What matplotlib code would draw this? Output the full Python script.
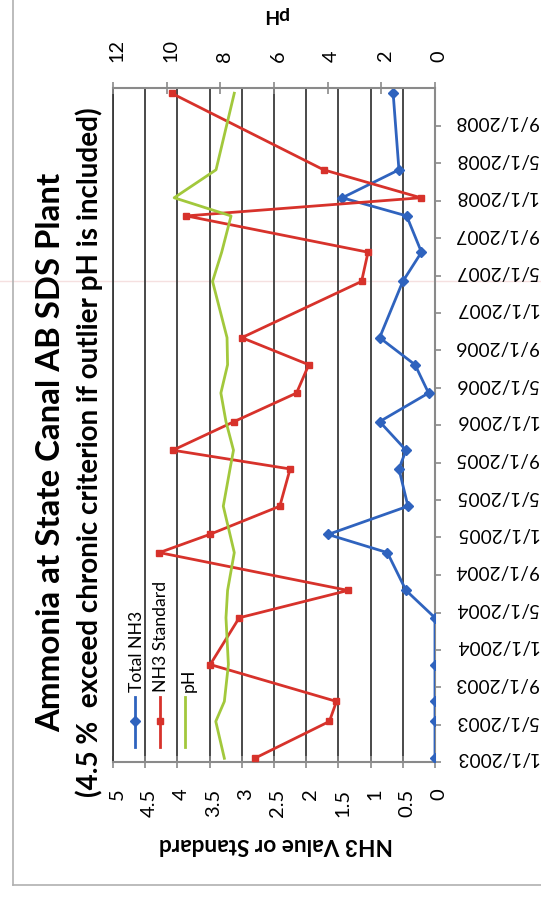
import datetime as dt
import matplotlib
matplotlib.use('Agg')
import matplotlib.pyplot as plt
from matplotlib.lines import Line2D
from matplotlib.transforms import ScaledTranslation

# ---------------- data ----------------
sample_dates = ['2003-01-13', '2003-05-13', '2003-07-17', '2003-11-14', '2004-04-14',
                '2004-07-12', '2004-11-12', '2005-01-10', '2005-04-12', '2005-08-11',
                '2005-10-11', '2006-01-12', '2006-04-15', '2006-07-16', '2006-10-12',
                '2007-04-13', '2007-07-17', '2007-11-12', '2008-01-10', '2008-04-10',
                '2008-12-15']
total_nh3 = [0.0, 0.0, 0.0, 0.0, 0.0, 0.45, 0.74, 1.66, 0.42, 0.56, 0.45,
             0.86, 0.10, 0.31, 0.86, 0.50, 0.21, 0.44, 1.44, 0.56, 0.65]
nh3_standard = [2.80, 1.64, 1.53, 3.49, 3.04, 1.35, 4.28, 3.50, 2.41, 2.25, 4.07,
                3.12, 2.15, 1.96, 3.00, 1.14, 1.04, 3.86, 0.22, 1.73, 4.09]
ph = [7.85, 8.17, 7.85, 7.70, 7.79, 7.73, 7.48, 7.64, 7.89, 7.64, 7.51,
      7.79, 7.98, 7.73, 7.75, 8.29, 7.95, 7.60, 9.72, 8.16, 7.48]

date_tick_labels = ['1/1/2003', '5/1/2003', '9/1/2003', '1/1/2004', '5/1/2004',
                    '9/1/2004', '1/1/2005', '5/1/2005', '9/1/2005', '1/1/2006',
                    '5/1/2006', '9/1/2006', '1/1/2007', '5/1/2007', '9/1/2007',
                    '1/1/2008', '5/1/2008', '9/1/2008']
nh3_ticks = [0, 0.5, 1, 1.5, 2, 2.5, 3, 3.5, 4, 4.5, 5]
nh3_tick_labels = ['0', '0.5', '1', '1.5', '2', '2.5', '3', '3.5', '4', '4.5', '5']
ph_ticks = [0, 2, 4, 6, 8, 10, 12]
ph_tick_labels = ['0', '2', '4', '6', '8', '10', '12']
series_names = ['Total NH3', 'NH3 Standard', 'pH']
title = 'Ammonia at State Canal AB SDS Plant'
subtitle = '(4.5 %  exceed chronic criterion if outlier pH is included)'
nh3_axis_title = 'NH3 Value or Standard'
ph_axis_title = 'pH'

BLUE = '#2F63BE'
RED = '#D7322B'
GREEN = '#A2C83C'
GRID = '#3a3a3a'
AXIS = '#8a8a8a'

# ---------------- figure ----------------
W, H = 541, 897
plt.rcParams['font.family'] = ['Lato', 'DejaVu Sans']
fig = plt.figure(figsize=(W / 100, H / 100), dpi=100)
fig.patch.set_facecolor('white')
renderer = fig.canvas.get_renderer()


def fx(px):
    return px / W


def fy(py):
    return 1 - py / H


def size_for(text, target, weight='normal', base=12.0):
    t = fig.text(0, 0, text, fontsize=base, fontweight=weight)
    w = t.get_window_extent(renderer).width
    t.remove()
    return base * target / w


L, R, T, B = 113, 435, 88, 762
ax = fig.add_axes([fx(L), fy(B), fx(R) - fx(L), fy(T) - fy(B)])
ax.set_facecolor('none')

d = [dt.datetime.strptime(s, '%Y-%m-%d') for s in sample_dates]
tick_dates = [dt.datetime.strptime(s, '%m/%d/%Y') for s in date_tick_labels]

ax.plot(total_nh3, d, color=BLUE, lw=2.0, marker='D', ms=5.5, zorder=3)
ax.plot(nh3_standard, d, color=RED, lw=2.0, marker='s', ms=5, zorder=4)

ax.set_xlim(5, 0)
ax.set_ylim(dt.datetime(2003, 1, 1), dt.datetime(2009, 1, 1))

ax2 = ax.twiny()
ax2.plot(ph, d, color=GREEN, lw=2.0, zorder=3)
ax2.set_xlim(12, 0)

# grid / spines
ax.set_axisbelow(True)
ax.set_xticks(nh3_ticks)
ax.set_xticklabels(nh3_tick_labels)
ax.grid(axis='x', color=GRID, lw=1.3)
ax.grid(axis='y', visible=False)
for s in ['top']:
    ax.spines[s].set_visible(False)
ax.spines['left'].set_color(GRID)
ax.spines['left'].set_linewidth(1.3)
for s in ['bottom', 'right']:
    ax.spines[s].set_color(AXIS)
    ax.spines[s].set_linewidth(1.5)
for s in ['bottom', 'left', 'right']:
    ax2.spines[s].set_visible(False)
ax2.spines['top'].set_color(AXIS)
ax2.spines['top'].set_linewidth(1.5)

tick_fs_date = size_for('9/1/2008', 83)
tick_fs_nh3 = size_for('4.5', 28)
tick_fs_ph = size_for('10', 23)

ax.tick_params(axis='x', bottom=True, top=False, direction='inout', length=8,
               width=1.2, color=AXIS, pad=15, labelsize=tick_fs_nh3, labelrotation=90)
ax.yaxis.tick_right()
ax.set_yticks(tick_dates)
ax.set_yticklabels(date_tick_labels)
ax.tick_params(axis='y', left=False, right=True, labelleft=False, labelright=True,
               direction='out', length=4, width=1.2, color=AXIS, pad=10,
               labelsize=tick_fs_date, labelrotation=180)
for lab in ax.get_yticklabels():
    lab.set_va('center')
    lab.set_ha('left')
    lab.set_transform(lab.get_transform() + ScaledTranslation(0, 4 / 100, fig.dpi_scale_trans))
for lab in ax.get_xticklabels():
    lab.set_transform(lab.get_transform() + ScaledTranslation(4 / 100, 0, fig.dpi_scale_trans))

ax2.set_xticks(ph_ticks)
ax2.set_xticklabels(ph_tick_labels)
ax2.tick_params(axis='x', top=True, direction='inout', length=8, width=1.2,
                color=AXIS, pad=15, labelsize=tick_fs_ph, labelrotation=90)
for lab in ax2.get_xticklabels():
    lab.set_transform(lab.get_transform() + ScaledTranslation(4 / 100, 0, fig.dpi_scale_trans))

# axis titles
fig.text(fx(276), fy(844), nh3_axis_title, rotation=180, ha='center', va='center',
         fontweight='bold', fontsize=size_for(nh3_axis_title, 234, 'bold'))
fig.text(fx(275), fy(14), ph_axis_title, rotation=180, ha='center', va='center',
         fontweight='bold', fontsize=size_for(ph_axis_title, 26, 'bold'))

# chart title
fig.text(fx(51), fy(452), title, rotation=90, ha='center', va='center',
         fontweight='bold', fontsize=size_for(title, 557, 'bold'))
fig.text(fx(89), fy(452), subtitle, rotation=90, ha='center', va='center',
         fontweight='bold', fontsize=size_for(subtitle, 686, 'bold'))

# legend
leg_fs = size_for('Total NH3', 81)
legend_specs = [(series_names[0], BLUE, 'D', 5.5, 134.5, 137),
                (series_names[1], RED, 's', 5, 159.5, 161.5),
                (series_names[2], GREEN, None, 0, 185, 189)]
for name, col, mk, ms, xh, xt in legend_specs:
    fig.add_artist(Line2D([fx(xh), fx(xh)], [fy(697), fy(747)], color=col, lw=2.0,
                          transform=fig.transFigure))
    if mk:
        fig.add_artist(Line2D([fx(xh)], [fy(721)], color=col, marker=mk, ms=ms,
                              transform=fig.transFigure))
    fig.text(fx(xt), fy(692), name, rotation=90, ha='center', va='bottom', fontsize=leg_fs)

# page frame
fig.add_artist(Line2D([fx(13), fx(13)], [fy(0), fy(885)], color='#b0b0b0', lw=1.2,
                      transform=fig.transFigure))
fig.add_artist(Line2D([fx(13), fx(541)], [fy(885), fy(885)], color='#b0b0b0', lw=1.2,
                      transform=fig.transFigure))
fig.add_artist(Line2D([fx(0), fx(541)], [fy(281), fy(281)], color='#f5e0e0', lw=1.0,
                      transform=fig.transFigure, zorder=0))

fig.savefig('out.png', dpi=100, facecolor='white')
